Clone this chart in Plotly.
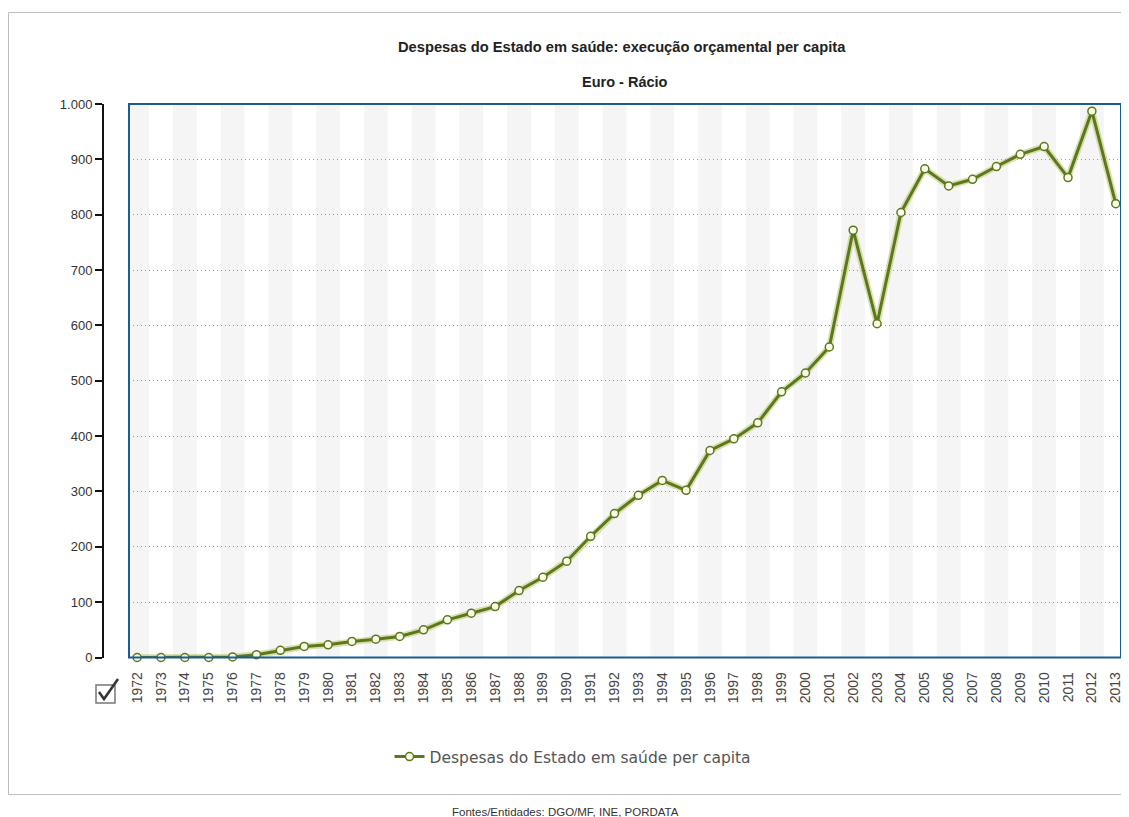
import plotly.graph_objects as go

# page offset of the plot div (browser body margin)
OFF = 8
W, H = 1129 - OFF, 817 - OFF

years = list(range(1972, 2014))
values = [0, 0, 0, 0, 1, 5, 13, 20, 23, 29, 33, 38, 50, 68, 80, 92, 121, 145,
          174, 219, 260, 293, 320, 302, 374, 395, 424, 480, 514, 561,
          772, 603, 804, 883, 852, 864, 887, 909, 923, 867, 987, 820]
year_labels = [str(y) for y in years]
y_ticks = [0, 100, 200, 300, 400, 500, 600, 700, 800, 900, 1000]
y_tick_labels = ["0", "100", "200", "300", "400", "500", "600", "700", "800", "900", "1.000"]

series_name = "Despesas do Estado em saúde per capita"
title = "Despesas do Estado em saúde: execução orçamental per capita"
subtitle = "Euro - Rácio"
source = "Fontes/Entidades: DGO/MF, INE, PORDATA"


def px(x):
    return (x - OFF) / W


def py(y):
    return 1 - (y - OFF) / H


plot_left, plot_right, plot_top, plot_bottom = 129, 1121, 104, 657.5
OLIVE = "#5b781c"

fig = go.Figure()

# soft halo under the line
fig.add_trace(go.Scatter(
    x=years, y=values, mode="lines",
    line=dict(color="rgba(185,200,110,0.55)", width=6.5),
    hoverinfo="skip", showlegend=False,
))
fig.add_trace(go.Scatter(
    x=years, y=values, mode="lines+markers", name=series_name,
    line=dict(color=OLIVE, width=3),
    marker=dict(symbol="circle", size=8, color="#fbfde8",
                line=dict(color=OLIVE, width=1.5)),
    cliponaxis=False,
))

shapes = []
# alternating white bands on odd years
for i, yr in enumerate(years):
    if i % 2 == 1:
        shapes.append(dict(type="rect", xref="x", yref="paper",
                           x0=yr - 0.5, x1=yr + 0.5,
                           y0=py(plot_bottom), y1=py(plot_top),
                           fillcolor="white", line=dict(width=0), layer="below"))
# plot frame
shapes.append(dict(type="rect", xref="paper", yref="paper",
                   x0=px(plot_left), x1=px(plot_right),
                   y0=py(plot_bottom), y1=py(plot_top),
                   line=dict(color="#1d5b95", width=2), fillcolor="rgba(0,0,0,0)",
                   layer="above"))
# outer page frame
shapes.append(dict(type="rect", xref="paper", yref="paper",
                   x0=px(8.5), x1=px(1140), y0=py(794.5), y1=py(12.5),
                   line=dict(color="#bdbdbd", width=1), fillcolor="rgba(0,0,0,0)"))
# checkbox
shapes.append(dict(type="rect", xref="paper", yref="paper",
                   x0=px(96), x1=px(115), y0=py(703), y1=py(685),
                   line=dict(color="#777777", width=1.5), fillcolor="white"))
shapes.append(dict(type="path", xref="paper", yref="paper",
                   path=f"M {px(99)} {py(692)} L {px(104)} {py(699)} L {px(118)} {py(679)}",
                   line=dict(color="#333333", width=2.5)))

annotations = [
    dict(text=f"<b>{title}</b>", x=px(622), y=py(47), xref="paper", yref="paper",
         showarrow=False, font=dict(family="Liberation Sans, Arial", size=14.7, color="#222"),
         xanchor="center", yanchor="middle"),
    dict(text=f"<b>{subtitle}</b>", x=px(625), y=py(82), xref="paper", yref="paper",
         showarrow=False, font=dict(family="Liberation Sans, Arial", size=14.5, color="#222"),
         xanchor="center", yanchor="middle"),
    dict(text=source, x=px(565), y=py(812), xref="paper", yref="paper",
         showarrow=False, font=dict(family="Liberation Sans, Arial", size=11.5, color="#333"),
         xanchor="center", yanchor="middle"),
]

fig.update_layout(
    width=W, height=H, autosize=False,
    margin=dict(l=0, r=0, t=0, b=0, pad=0),
    paper_bgcolor="white",
    plot_bgcolor="#f5f5f5",
    shapes=shapes,
    annotations=annotations,
    showlegend=True,
    legend=dict(orientation="h", x=px(573), y=py(757), xanchor="center", yanchor="middle",
                font=dict(family="DejaVu Sans, Verdana", size=15.5, color="#555"),
                bgcolor="rgba(0,0,0,0)", itemwidth=30),
    xaxis=dict(
        domain=[px(plot_left), px(plot_right)],
        range=[1971.66, 2013.22],
        tickmode="array", tickvals=years, ticktext=year_labels,
        tickangle=-90, ticks="outside", ticklen=8, tickcolor="rgba(0,0,0,0)",
        tickfont=dict(family="Liberation Sans, Arial", size=14, color="#444"),
        showgrid=False, zeroline=False, showline=False, fixedrange=True,
        automargin=False,
    ),
    yaxis=dict(
        domain=[py(plot_bottom), py(plot_top)],
        range=[0, 1000],
        anchor="free", position=px(103),
        tickmode="array", tickvals=y_ticks, ticktext=y_tick_labels,
        ticks="outside", ticklen=7, tickwidth=2, tickcolor="#111",
        showline=True, linecolor="#111", linewidth=2,
        tickfont=dict(family="Liberation Sans, Arial", size=13, color="#333"),
        showgrid=True, gridcolor="#9a9a9a", griddash="1px,3px", gridwidth=1,
        zeroline=False, fixedrange=True, automargin=False,
    ),
)

fig.write_html("out.html")
